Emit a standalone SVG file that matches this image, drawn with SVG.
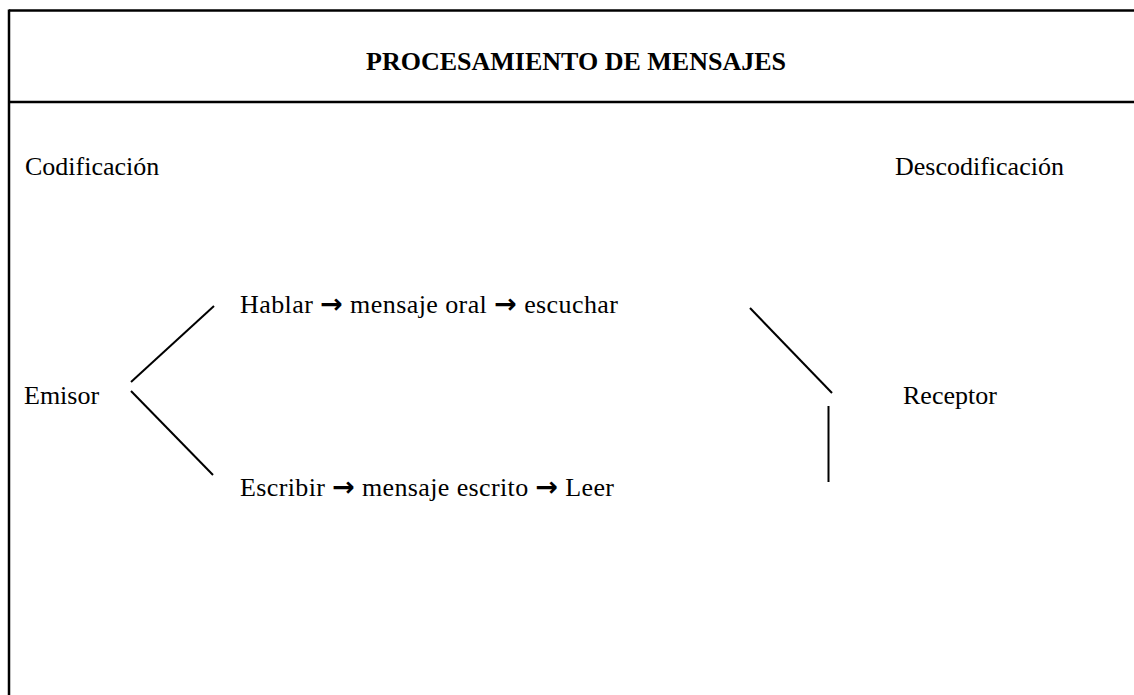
<svg xmlns="http://www.w3.org/2000/svg" width="1134" height="695" viewBox="0 0 1134 695">
<style>
.t{font-family:"Liberation Serif","Times New Roman",serif;font-size:26px;fill:#000}
.b{font-weight:bold}
.ar{font-family:"DejaVu Sans",sans-serif;font-weight:bold;font-size:27px}
.ln{stroke:#000;stroke-width:2;fill:none}
.fr{stroke:#000;stroke-width:2.5;fill:none}
</style>
<rect width="1134" height="695" fill="#fff"/>
<g id="frame">
<line class="fr" x1="9" y1="10.5" x2="1134" y2="10.5"/>
<line class="fr" x1="9" y1="102" x2="1134" y2="102"/>
<line class="fr" x1="9" y1="9.5" x2="9" y2="695"/>
</g>
<g id="title"><text class="t b" x="576" y="70" text-anchor="middle">PROCESAMIENTO DE MENSAJES</text></g>
<g id="codificacion"><text class="t" x="25" y="175">Codificación</text></g>
<g id="descodificacion"><text class="t" x="895" y="175">Descodificación</text></g>
<g id="emisor"><text class="t" x="24" y="404">Emisor</text></g>
<g id="receptor"><text class="t" x="903" y="404">Receptor</text></g>
<g id="oral"><text class="t" x="240" y="313" textLength="378" lengthAdjust="spacing">Hablar <tspan class="ar">→</tspan> mensaje oral <tspan class="ar">→</tspan> escuchar</text></g>
<g id="escrito"><text class="t" x="240" y="496" textLength="374" lengthAdjust="spacing">Escribir <tspan class="ar">→</tspan> mensaje escrito <tspan class="ar">→</tspan> Leer</text></g>
<g id="connectors">
<line class="ln" x1="131" y1="382" x2="214" y2="306"/>
<line class="ln" x1="131" y1="391" x2="213" y2="475"/>
<line class="ln" x1="750" y1="308" x2="832" y2="393"/>
<line class="ln" x1="828.5" y1="406" x2="828.5" y2="482"/>
</g>
</svg>
